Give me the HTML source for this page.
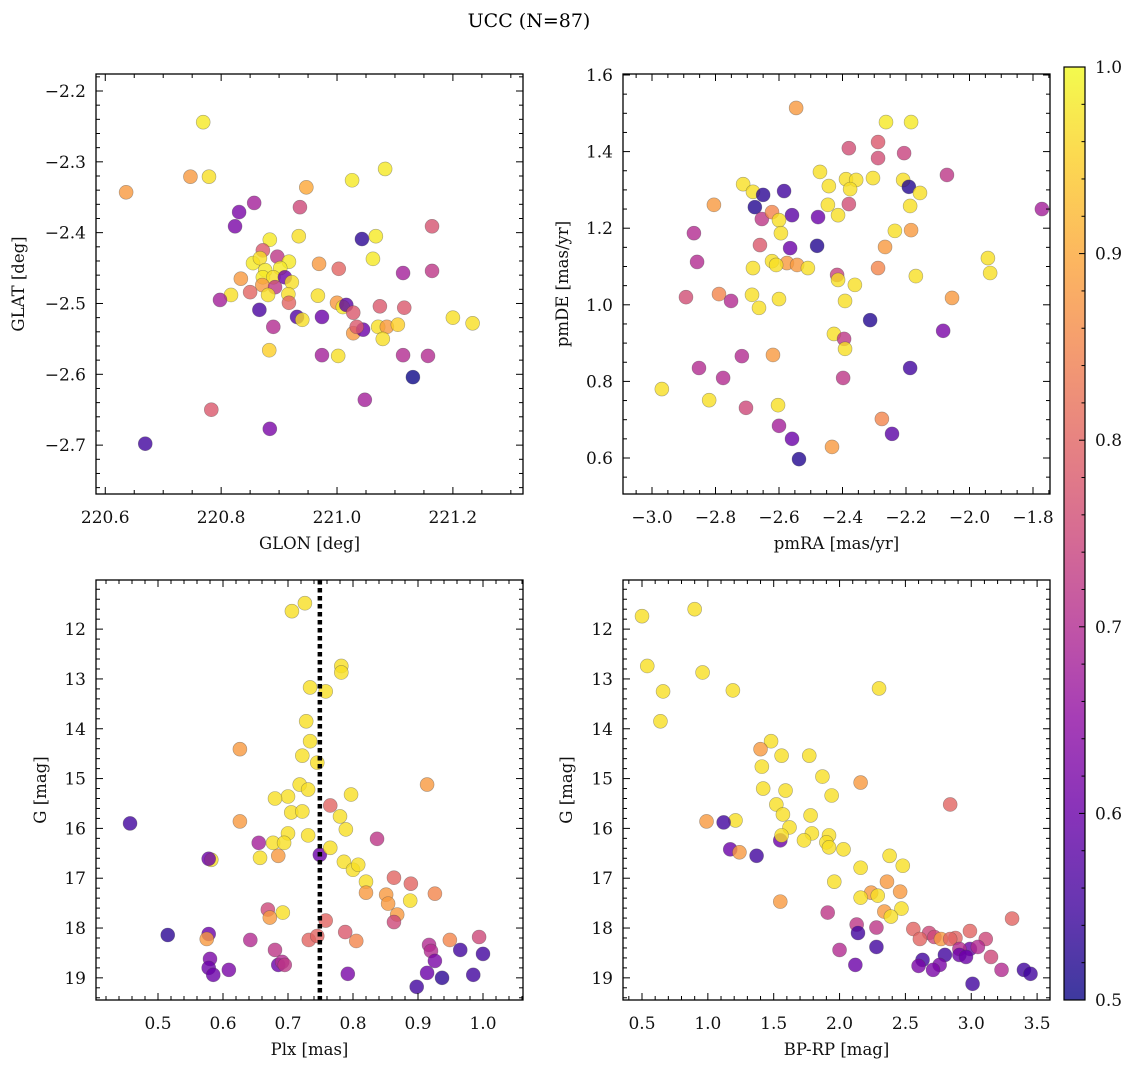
<!DOCTYPE html>
<html><head><meta charset="utf-8">
<style>
html,body{margin:0;padding:0;background:#fff;}
svg{display:block;font-family:"DejaVu Serif","Liberation Serif",serif;}
</style></head>
<body>
<svg id="fig" width="1136" height="1067" viewBox="0 0 1136 1067" xmlns="http://www.w3.org/2000/svg">
<text x="529" y="27" font-size="19" text-anchor="middle">UCC (N=87)</text>
</svg>
<script>
// ---- Panel 1: GLON / GLAT ----
const glon = [220.769,220.747,220.779,220.636,220.947,221.026,221.083,220.936,220.857,220.831,220.824,221.164,221.043,221.067,220.934,220.884,221.062,220.969,221.003,221.114,220.872,220.897,220.855,220.867,220.917,220.876,220.902,220.872,220.890,220.910,220.922,220.834,220.871,220.893,220.850,220.817,220.881,220.916,220.917,220.967,221.000,221.010,221.016,221.028,221.074,221.116,220.866,220.931,220.940,220.974,220.890,221.071,221.086,221.105,221.028,221.045,221.034,221.079,220.883,220.974,221.002,221.114,220.798,221.164,221.200,221.234,221.157,221.131,221.048,220.783,220.669,220.884];
const glat = [-2.244,-2.321,-2.321,-2.343,-2.336,-2.326,-2.310,-2.364,-2.358,-2.371,-2.391,-2.391,-2.409,-2.405,-2.405,-2.410,-2.437,-2.444,-2.451,-2.457,-2.425,-2.434,-2.443,-2.436,-2.441,-2.453,-2.450,-2.463,-2.463,-2.463,-2.470,-2.465,-2.474,-2.477,-2.484,-2.488,-2.488,-2.487,-2.499,-2.489,-2.499,-2.505,-2.502,-2.513,-2.504,-2.506,-2.509,-2.519,-2.523,-2.519,-2.533,-2.533,-2.533,-2.530,-2.542,-2.537,-2.533,-2.550,-2.566,-2.573,-2.574,-2.573,-2.495,-2.454,-2.520,-2.528,-2.574,-2.604,-2.636,-2.650,-2.698,-2.677];
const prob1 = [0.98,0.88,0.97,0.88,0.9,0.98,0.98,0.75,0.68,0.62,0.62,0.77,0.53,0.98,0.97,0.98,0.98,0.88,0.8,0.68,0.78,0.72,0.98,0.97,0.98,0.98,0.98,0.98,0.97,0.6,0.97,0.88,0.88,0.72,0.8,0.97,0.97,0.97,0.8,0.97,0.88,0.98,0.58,0.78,0.78,0.78,0.56,0.57,0.97,0.6,0.7,0.97,0.88,0.95,0.88,0.6,0.78,0.97,0.95,0.68,0.97,0.7,0.68,0.72,0.97,0.97,0.7,0.5,0.68,0.78,0.55,0.62];
// ---- Panel 2: pmRA / pmDE ----
const pmra = [-2.546,-2.263,-2.184,-2.288,-2.380,-2.206,-2.288,-2.713,-2.682,-2.650,-2.584,-2.443,-2.389,-2.357,-2.471,-2.446,-2.376,-2.304,-2.209,-2.191,-2.156,-2.071,-1.772,-2.805,-2.676,-2.559,-2.477,-2.414,-2.654,-2.622,-2.600,-2.594,-2.380,-2.187,-2.184,-2.266,-2.235,-2.868,-2.660,-2.565,-2.480,-2.622,-2.575,-2.682,-2.543,-2.509,-2.417,-2.288,-2.169,-1.942,-1.935,-2.858,-2.609,-2.414,-2.361,-2.685,-2.789,-2.751,-2.600,-2.392,-2.055,-2.663,-2.893,-2.313,-2.083,-2.427,-2.717,-2.619,-2.395,-2.392,-2.852,-2.776,-2.969,-2.398,-2.187,-2.820,-2.704,-2.603,-2.276,-2.600,-2.244,-2.559,-2.537,-2.433];
const pmde = [1.514,1.477,1.477,1.425,1.409,1.396,1.383,1.315,1.295,1.287,1.297,1.310,1.328,1.326,1.347,1.261,1.302,1.331,1.326,1.308,1.292,1.339,1.250,1.261,1.255,1.234,1.229,1.234,1.224,1.242,1.221,1.187,1.263,1.258,1.195,1.151,1.193,1.187,1.156,1.148,1.154,1.114,1.109,1.096,1.104,1.096,1.078,1.096,1.075,1.122,1.083,1.112,1.104,1.065,1.052,1.026,1.028,1.010,1.015,1.010,1.018,0.992,1.020,0.960,0.932,0.924,0.866,0.869,0.911,0.885,0.835,0.809,0.780,0.809,0.835,0.751,0.731,0.738,0.702,0.684,0.663,0.650,0.597,0.629];
const prob2 = [0.88,0.98,0.98,0.78,0.76,0.74,0.76,0.97,0.97,0.53,0.55,0.97,0.97,0.97,0.97,0.97,0.97,0.97,0.97,0.52,0.97,0.72,0.68,0.88,0.52,0.58,0.6,0.97,0.72,0.85,0.97,0.97,0.76,0.97,0.88,0.88,0.97,0.7,0.78,0.6,0.52,0.97,0.88,0.97,0.88,0.97,0.74,0.85,0.97,0.97,0.97,0.7,0.97,0.97,0.97,0.97,0.85,0.7,0.97,0.97,0.88,0.97,0.76,0.52,0.62,0.97,0.7,0.88,0.72,0.97,0.7,0.7,0.97,0.72,0.55,0.97,0.75,0.97,0.85,0.68,0.58,0.6,0.52,0.88];
// ---- Panel 3: Plx / G ----
const plx = [0.706,0.726,0.782,0.782,0.734,0.758,0.728,0.722,0.734,0.626,0.745,0.718,0.700,0.797,0.914,0.731,0.705,0.722,0.765,0.680,0.780,0.789,0.626,0.457,0.700,0.677,0.694,0.655,0.731,0.837,0.749,0.765,0.657,0.685,0.582,0.578,0.786,0.800,0.808,0.820,0.820,0.863,0.889,0.926,0.851,0.888,0.854,0.868,0.669,0.692,0.672,0.758,0.863,0.515,0.578,0.575,0.642,0.732,0.745,0.788,0.805,0.949,0.994,0.580,0.578,0.585,0.609,0.680,0.685,0.691,0.695,0.917,0.920,0.926,0.914,0.792,0.898,0.965,1.000,0.937,0.985];
const gmag3 = [11.64,11.48,12.74,12.87,13.17,13.25,13.85,14.54,14.25,14.41,14.68,15.12,15.36,15.32,15.12,15.22,15.68,15.66,15.54,15.40,15.76,16.02,15.86,15.90,16.10,16.29,16.29,16.29,16.14,16.21,16.53,16.39,16.59,16.55,16.63,16.61,16.67,16.83,16.73,17.07,17.29,16.99,17.11,17.31,17.33,17.45,17.51,17.73,17.63,17.69,17.79,17.85,17.88,18.14,18.12,18.22,18.24,18.24,18.16,18.08,18.26,18.24,18.18,18.62,18.80,18.94,18.84,18.44,18.74,18.68,18.74,18.34,18.46,18.66,18.90,18.92,19.18,18.44,18.52,19.00,18.94];
const prob3 = [0.97,0.97,0.97,0.97,0.97,0.97,0.97,0.97,0.97,0.88,0.97,0.97,0.97,0.97,0.88,0.97,0.97,0.97,0.8,0.97,0.97,0.97,0.88,0.55,0.97,0.97,0.97,0.68,0.97,0.72,0.6,0.97,0.97,0.88,0.97,0.6,0.97,0.97,0.97,0.97,0.88,0.8,0.8,0.85,0.88,0.97,0.88,0.88,0.75,0.97,0.88,0.8,0.75,0.53,0.6,0.88,0.7,0.8,0.8,0.78,0.85,0.85,0.75,0.62,0.6,0.6,0.62,0.72,0.6,0.7,0.72,0.7,0.7,0.62,0.6,0.62,0.55,0.55,0.55,0.53,0.55];
// ---- Panel 4: BP-RP / G ----
const bprp = [0.50,0.90,0.54,0.66,0.96,1.19,0.64,2.30,1.48,1.40,1.56,1.77,1.41,1.87,2.16,1.42,1.59,1.94,1.52,2.84,1.57,1.78,1.21,0.99,1.12,1.62,1.79,1.92,1.90,1.92,1.73,1.55,1.56,2.03,2.38,2.16,2.48,1.17,1.24,1.37,1.96,2.36,2.24,2.16,2.46,2.29,2.47,2.34,1.91,1.55,2.39,3.31,2.13,2.56,2.28,2.68,2.72,2.77,2.61,2.88,2.99,2.84,2.14,2.00,2.28,2.12,2.99,3.11,2.91,2.80,2.91,2.96,3.05,2.63,2.76,2.60,2.71,3.15,3.23,3.01,3.40,3.45];
const gmag4 = [11.74,11.60,12.74,13.25,12.87,13.23,13.85,13.19,14.25,14.41,14.54,14.54,14.76,14.96,15.08,15.20,15.24,15.34,15.52,15.52,15.72,15.74,15.84,15.86,15.88,15.98,16.10,16.14,16.28,16.38,16.24,16.24,16.14,16.42,16.55,16.79,16.75,16.42,16.48,16.55,17.07,17.07,17.29,17.39,17.27,17.35,17.61,17.67,17.69,17.47,17.77,17.81,17.93,18.02,17.99,18.10,18.18,18.22,18.22,18.20,18.06,18.22,18.10,18.44,18.38,18.74,18.42,18.22,18.42,18.54,18.54,18.58,18.38,18.64,18.74,18.76,18.84,18.58,18.84,19.12,18.84,18.92];
const prob4 = [0.97,0.97,0.97,0.97,0.97,0.97,0.97,0.97,0.97,0.88,0.97,0.97,0.97,0.97,0.88,0.97,0.97,0.97,0.97,0.8,0.97,0.97,0.97,0.88,0.55,0.97,0.97,0.97,0.97,0.97,0.97,0.6,0.97,0.97,0.97,0.97,0.97,0.6,0.88,0.55,0.97,0.88,0.88,0.97,0.88,0.97,0.97,0.88,0.72,0.88,0.97,0.8,0.72,0.8,0.72,0.75,0.75,0.88,0.8,0.8,0.8,0.8,0.55,0.7,0.55,0.6,0.6,0.75,0.7,0.55,0.6,0.6,0.7,0.55,0.62,0.62,0.62,0.75,0.7,0.55,0.55,0.55];
// colorbar ticks
const cbTicks = [0.5,0.6,0.7,0.8,0.9,1.0];

const NS = "http://www.w3.org/2000/svg";
const svg = document.getElementById('fig');
function mk(tag, attrs, parent){ const e=document.createElementNS(NS,tag); for(const k in attrs) e.setAttribute(k,attrs[k]); (parent||svg).appendChild(e); return e; }

const plasma = [[13,8,135],[65,4,157],[106,0,168],[143,13,164],[177,42,144],[204,71,120],[225,100,98],[242,132,75],[252,166,54],[252,206,37],[240,249,33]];
function cmap(p){
  let t=(p-0.5)/0.5; t=Math.max(0,Math.min(1,t));
  const f=t*10, i=Math.min(9,Math.floor(f)), r=f-i;
  const a=plasma[i], b=plasma[i+1];
  return 'rgb('+[0,1,2].map(k=>Math.round(a[k]+(b[k]-a[k])*r)).join(',')+')';
}
function fmt(v,dec){ const s=Math.abs(v).toFixed(dec); return (v<0?'\u2212':'')+s; }

function panel(cfg){
  const {L,T,W,H,xmin,xmax,ymin,ymax,yinv} = cfg;
  const sx = v => L + (v-xmin)/(xmax-xmin)*W;
  const sy = v => yinv ? T + (v-ymin)/(ymax-ymin)*H : T + H - (v-ymin)/(ymax-ymin)*H;
  const g = mk('g',{});
  
  
  const pg = mk('g',{},g);
  
  
  for(let i=0;i<cfg.xs.length;i++){
    const c = mk('circle',{cx:sx(cfg.xs[i]),cy:sy(cfg.ys[i]),r:7,fill:cmap(cfg.ps[i]),'fill-opacity':0.8,stroke:'#444','stroke-opacity':0.45,'stroke-width':0.6},pg);
    
    
  }
  if(cfg.vline!==undefined){
    const vl = mk('line',{x1:sx(cfg.vline),x2:sx(cfg.vline),y1:T,y2:T+H,stroke:'#000','stroke-width':4.5,'stroke-dasharray':'4.5 3.5'},g);
    
    
  }
  const fr = mk('rect',{x:L,y:T,width:W,height:H,fill:'none',stroke:'#000','stroke-width':1.3},g);
  
  
  const tk = mk('g',{stroke:'#000','stroke-width':1},g);
  const eps=1e-9;
  const xminor = cfg.xminor, xmaj = cfg.xmajor;
  for(let v=Math.ceil(xmin/xminor-eps)*xminor; v<=xmax+eps; v+=xminor){
    const isMaj = Math.abs(v/xmaj-Math.round(v/xmaj))<1e-6;
    const len = isMaj?7:4, x=sx(v);
    mk('line',{x1:x,x2:x,y1:T+H,y2:T+H-len},tk);
    mk('line',{x1:x,x2:x,y1:T,y2:T+len},tk);
    if(isMaj){
      const t = mk('text',{x:x,y:T+H+29,'font-size':17,'text-anchor':'middle',fill:'#111'},g);
      t.textContent = fmt(Math.round(v/xmaj)*xmaj, cfg.xdec);
      
      
    }
  }
  const yminor = cfg.yminor, ymaj = cfg.ymajor;
  const ylo=Math.min(ymin,ymax), yhi=Math.max(ymin,ymax);
  for(let v=Math.ceil(ylo/yminor-eps)*yminor; v<=yhi+eps; v+=yminor){
    const isMaj = Math.abs(v/ymaj-Math.round(v/ymaj))<1e-6;
    const len = isMaj?7:4, y=sy(v);
    mk('line',{x1:L,x2:L+len,y1:y,y2:y},tk);
    mk('line',{x1:L+W,x2:L+W-len,y1:y,y2:y},tk);
    if(isMaj){
      const t = mk('text',{x:L-10,y:y+6,'font-size':17,'text-anchor':'end',fill:'#111'},g);
      t.textContent = fmt(Math.round(v/ymaj)*ymaj, cfg.ydec);
      
      
    }
  }
  const xl = mk('text',{x:L+W/2,y:T+H+55,'font-size':16.5,'text-anchor':'middle',fill:'#111'},g);
  xl.textContent = cfg.xlabel;
  
  
  const yx = cfg.ylabelX, yc = T+H/2;
  const yl = mk('text',{x:yx,y:yc,'font-size':16.5,'text-anchor':'middle',fill:'#111',transform:'rotate(-90 '+yx+' '+yc+')'},g);
  yl.textContent = cfg.ylabel;
  
  
}

panel({name:'glon-glat-panel',L:96,T:74,W:427,H:420,xmin:220.584,xmax:221.321,ymin:-2.769,ymax:-2.176,
  xmajor:0.2,xminor:0.05,ymajor:0.1,yminor:0.02,xdec:1,ydec:1,xs:glon,ys:glat,ps:prob1,
  xlabel:'GLON [deg]',ylabel:'GLAT [deg]',ylabelX:24});
panel({name:'pm-panel',L:623,T:74,W:427,H:420,xmin:-3.0-29/317.5,xmax:-3.0+398/317.5,ymin:1.6-419/383,ymax:1.6+1/383,
  xmajor:0.2,xminor:0.05,ymajor:0.2,yminor:0.05,xdec:1,ydec:1,xs:pmra,ys:pmde,ps:prob2,
  xlabel:'pmRA [mas/yr]',ylabel:'pmDE [mas/yr]',ylabelX:568});
panel({name:'plx-g-panel',L:96,T:580,W:427,H:420,xmin:0.5-62/650,xmax:0.5+365/650,ymin:12-49/49.7,ymax:12+370/49.7,yinv:true,
  xmajor:0.1,xminor:0.02,ymajor:1,yminor:0.2,xdec:1,ydec:0,xs:plx,ys:gmag3,ps:prob3,vline:0.749,
  xlabel:'Plx [mas]',ylabel:'G [mag]',ylabelX:46});
panel({name:'cmd-panel',L:623,T:580,W:427,H:420,xmin:0.5-19/131.7,xmax:0.5+408/131.7,ymin:12-49/49.7,ymax:12+370/49.7,yinv:true,
  xmajor:0.5,xminor:0.1,ymajor:1,yminor:0.2,xdec:1,ydec:0,xs:bprp,ys:gmag4,ps:prob4,
  xlabel:'BP-RP [mag]',ylabel:'G [mag]',ylabelX:572});

const cbL=1064, cbT=67, cbW=21, cbH=933;
const defs = mk('defs',{});
const grad = mk('linearGradient',{id:'cbg',x1:0,y1:1,x2:0,y2:0},defs);
for(let i=0;i<=10;i++){ mk('stop',{offset:i/10,'stop-color':'rgb('+plasma[i].join(',')+')','stop-opacity':0.8},grad); }
const cbg = mk('g',{});


mk('rect',{x:cbL,y:cbT,width:cbW,height:cbH,fill:'url(#cbg)',stroke:'#000','stroke-width':1.2},cbg);
const cbv = v => cbT + cbH - (v-0.5)/0.5*cbH;
for(let v=0.5; v<=1.0001; v+=0.02){
  const maj = Math.abs(v*10-Math.round(v*10))<1e-6;
  const y=cbv(v);
  mk('line',{x1:cbL+cbW,x2:cbL+cbW-(maj?6:3.5),y1:y,y2:y,stroke:'#000','stroke-width':1},cbg);
}
for(let i=0;i<cbTicks.length;i++){
  const t = mk('text',{x:1095,y:cbv(cbTicks[i])+6,'font-size':17,fill:'#111'},cbg);
  t.textContent = cbTicks[i].toFixed(1);
  
  
}
</script>
</body></html>
